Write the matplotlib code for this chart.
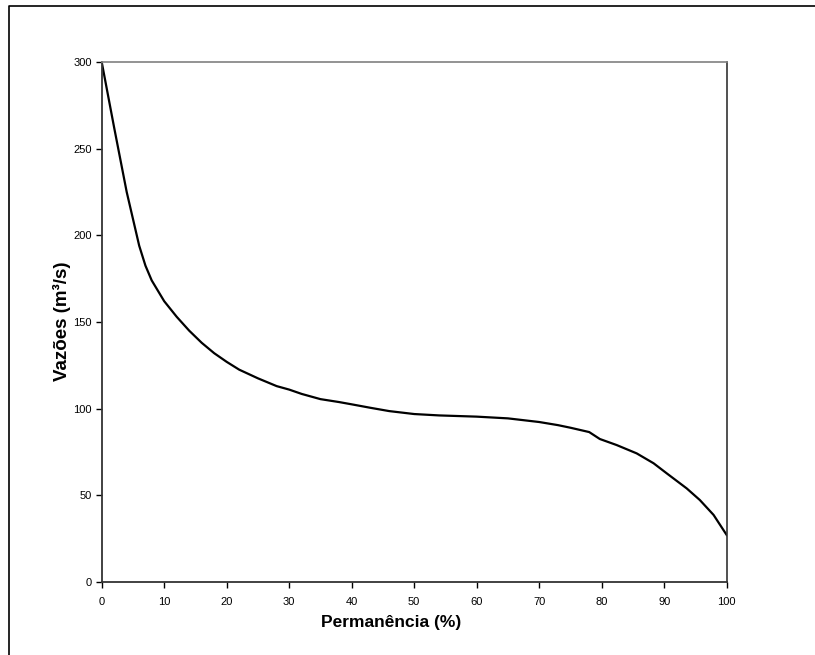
import numpy as np
import matplotlib.pyplot as plt
from matplotlib.lines import Line2D

plt.rcParams['font.family'] = ['Liberation Sans', 'DejaVu Sans']

# curva de permanencia (leitura do grafico)
perm = [0, 1, 2, 3, 4, 5, 6, 7, 8, 9, 10, 12, 14, 16, 18, 20, 22, 25, 28, 30,
        32, 35, 38, 40, 43, 46, 50, 54, 60, 65, 70, 73, 75, 78, 79.7, 82.4,
        85.6, 88.3, 90.4, 93.6, 95.7, 97.9, 100]
vazao = [300, 281, 262, 243.5, 225, 209.5, 194, 182.5, 174, 168, 162, 153,
         145, 138, 132, 127, 122.5, 117.5, 113, 111, 108.5, 105.5, 103.8,
         102.5, 100.5, 98.6, 96.9, 96.1, 95.4, 94.4, 92.3, 90.5, 89, 86.5,
         82.5, 79, 74.2, 68.5, 62.7, 54, 47.3, 38.7, 27.1]

xticks = list(range(0, 101, 10))
yticks = list(range(0, 301, 50))

W, H = 815, 655
fig = plt.figure(figsize=(W/100, H/100), dpi=100)
ax = fig.add_axes([101.7/W, 1-582/H, 625/W, 520/H])

ax.plot(perm, vazao, color='black', lw=1.6, solid_joinstyle='round')

ax.set_xlim(0, 100)
ax.set_ylim(0, 300)
ax.set_xticks(xticks)
ax.set_yticks(yticks)
ax.tick_params(direction='out', length=4, width=1, labelsize=8)
ax.tick_params(axis='x', pad=7)
ax.tick_params(axis='y', pad=3)

for s in ['left', 'bottom']:
    ax.spines[s].set_color('#333333')
    ax.spines[s].set_linewidth(1.3)
ax.spines['top'].set_color('#808080')
ax.spines['right'].set_color('#333333')
ax.spines['top'].set_linewidth(1.2)
ax.spines['right'].set_linewidth(1.2)

ax.set_xlabel('Permanência (%)', fontsize=12.5, fontweight='bold')
ax.set_ylabel('Vazões (m³/s)', fontsize=13.5, fontweight='bold')
ax.xaxis.set_label_coords(0.463, -0.077)
ax.yaxis.set_label_coords(-0.0635, 0.502)
ax.xaxis.label.set_va('center')
ax.yaxis.label.set_va('center')

# moldura externa
fx = 9/W
fy = 1-6/H
fig.add_artist(Line2D([fx, fx, 1.0], [0.0, fy, fy], transform=fig.transFigure,
                      color='black', lw=1.2))

fig.savefig('out.png', dpi=100)
